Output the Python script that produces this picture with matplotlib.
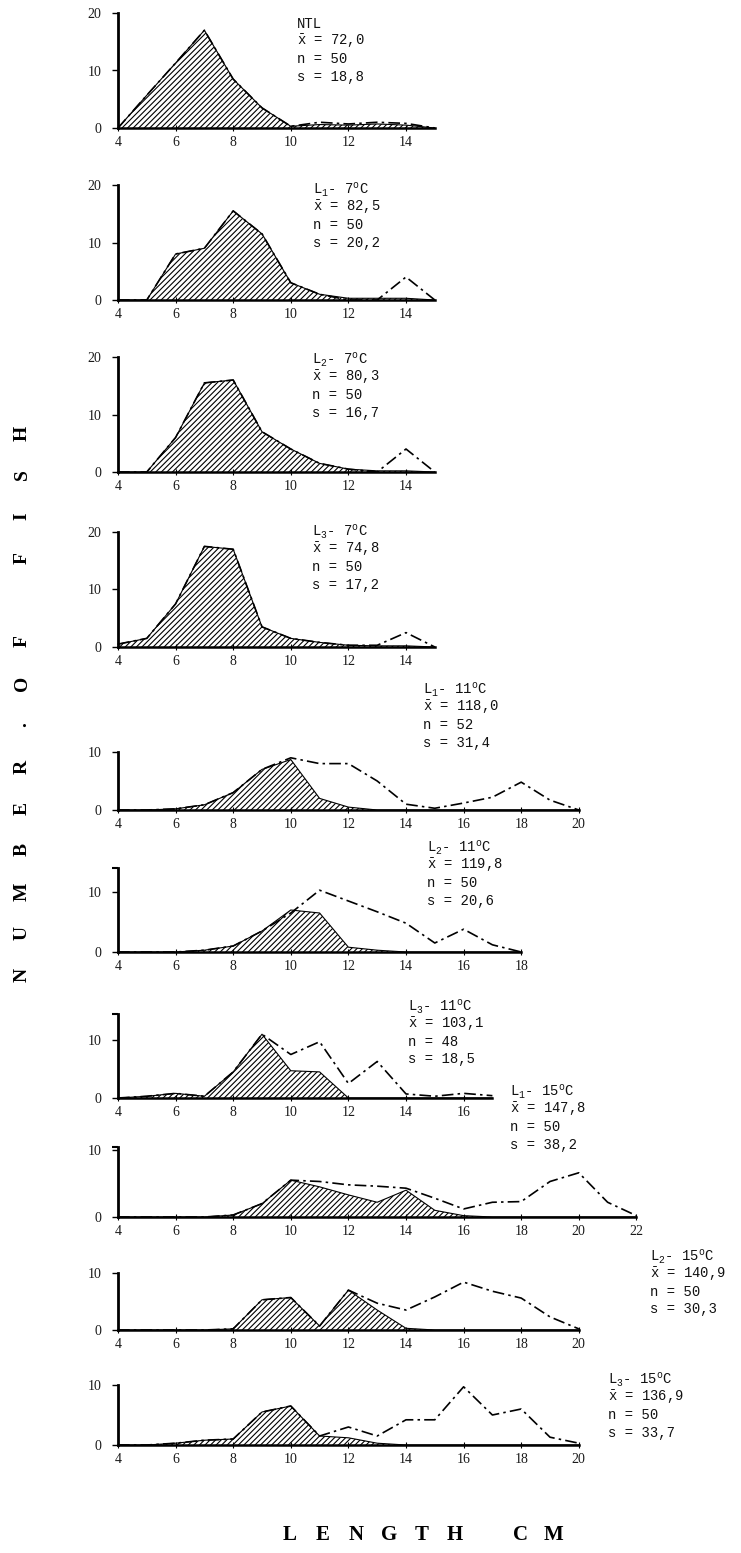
import matplotlib.pyplot as plt

plt.rcParams["mathtext.fontset"] = "custom"
plt.rcParams["mathtext.rm"] = "Liberation Mono"
plt.rcParams["mathtext.it"] = "Liberation Mono:italic"
plt.rcParams["hatch.linewidth"] = 0.8

# =======================
# Data: length class (cm) vs number of fish
# all_* = whole sample (dash-dot outline), sub_* = hatched part
# =======================
x_ntl = [4, 5, 6, 7, 8, 9, 10, 11, 12, 13, 14, 15]
all_ntl = [0, 5.7, 11.3, 17, 8.5, 3.5, 0.3, 1, 0.7, 1, 0.8, 0]
sub_ntl = [0, 5.7, 11.3, 17, 8.5, 3.5, 0.3, 0.6, 0.5, 0.7, 0.5, 0]

x_l1_7 = [4, 5, 6, 7, 8, 9, 10, 11, 12, 13, 14, 15]
all_l1_7 = [0, 0, 8, 9, 15.5, 11.5, 3, 1, 0, 0, 4, 0]
sub_l1_7 = [0, 0, 8, 9, 15.5, 11.5, 3, 1, 0.3, 0.3, 0.3, 0]

x_l2_7 = [4, 5, 6, 7, 8, 9, 10, 11, 12, 13, 14, 15]
all_l2_7 = [0, 0, 6, 15.5, 16, 7, 4, 1.5, 0.5, 0, 4, 0]
sub_l2_7 = [0, 0, 6, 15.5, 16, 7, 4, 1.5, 0.5, 0.2, 0.2, 0]

x_l3_7 = [4, 5, 6, 7, 8, 9, 10, 11, 12, 13, 14, 15]
all_l3_7 = [0.5, 1.5, 7.5, 17.5, 17, 3.5, 1.5, 0.8, 0.3, 0.3, 2.5, 0]
sub_l3_7 = [0.5, 1.5, 7.5, 17.5, 17, 3.5, 1.5, 0.8, 0.3, 0.2, 0.2, 0]

x_l1_11 = [4, 5, 6, 7, 8, 9, 10, 11, 12, 13, 14, 15, 16, 17, 18, 19, 20]
all_l1_11 = [0, 0, 0.2, 0.9, 3, 7, 9, 8, 8, 5, 1, 0.3, 1.2, 2.2, 4.8, 1.7, 0]
sub_l1_11 = [0, 0, 0.2, 0.9, 3, 7, 8.7, 2, 0.5, 0, 0, 0, 0, 0, 0, 0, 0]

x_l2_11 = [4, 5, 6, 7, 8, 9, 10, 11, 12, 13, 14, 15, 16, 17, 18]
all_l2_11 = [0, 0, 0, 0.3, 1, 3.5, 6.5, 10.3, 8.5, 6.7, 4.8, 1.5, 3.8, 1.2, 0]
sub_l2_11 = [0, 0, 0, 0.3, 1, 3.5, 7, 6.5, 0.8, 0.3, 0, 0, 0, 0, 0]

x_l3_11 = [4, 5, 6, 7, 8, 9, 10, 11, 12, 13, 14, 15, 16, 17]
all_l3_11 = [0, 0.3, 0.8, 0.3, 4.5, 11, 7.5, 9.7, 2.5, 6.3, 0.7, 0.3, 0.8, 0.4]
sub_l3_11 = [0, 0.3, 0.8, 0.3, 4.5, 11, 4.7, 4.5, 0, 0, 0, 0, 0, 0]

x_l1_15 = [4, 5, 6, 7, 8, 9, 10, 11, 12, 13, 14, 15, 16, 17, 18, 19, 20, 21, 22]
all_l1_15 = [0, 0, 0, 0, 0.3, 2, 5.5, 5.3, 4.8, 4.6, 4.3, 2.8, 1.2, 2.2, 2.3, 5.3, 6.6, 2.2, 0.2]
sub_l1_15 = [0, 0, 0, 0, 0.3, 2, 5.5, 4.5, 3.3, 2.2, 4, 1, 0.2, 0, 0, 0, 0, 0, 0]

x_l2_15 = [4, 5, 6, 7, 8, 9, 10, 11, 12, 13, 14, 15, 16, 17, 18, 19, 20]
all_l2_15 = [0, 0, 0, 0, 0.2, 5.3, 5.7, 0.7, 7, 4.7, 3.5, 5.8, 8.4, 6.8, 5.6, 2.3, 0.2]
sub_l2_15 = [0, 0, 0, 0, 0.2, 5.3, 5.7, 0.7, 7, 3.5, 0.3, 0, 0, 0, 0, 0, 0]

x_l3_15 = [4, 5, 6, 7, 8, 9, 10, 11, 12, 13, 14, 15, 16, 17, 18, 19, 20]
all_l3_15 = [0, 0, 0.3, 0.8, 1, 5.5, 6.5, 1.5, 3, 1.5, 4.2, 4.2, 9.7, 5, 6, 1.3, 0.3]
sub_l3_15 = [0, 0, 0.3, 0.8, 1, 5.5, 6.5, 1.5, 1.2, 0.3, 0, 0, 0, 0, 0, 0, 0]

groups = ["NTL", "L$_1$- 7$^{\\rm o}$C", "L$_2$- 7$^{\\rm o}$C", "L$_3$- 7$^{\\rm o}$C",
          "L$_1$- 11$^{\\rm o}$C", "L$_2$- 11$^{\\rm o}$C", "L$_3$- 11$^{\\rm o}$C",
          "L$_1$- 15$^{\\rm o}$C", "L$_2$- 15$^{\\rm o}$C", "L$_3$- 15$^{\\rm o}$C"]
means = ["72,0", "82,5", "80,3", "74,8", "118,0", "119,8", "103,1", "147,8", "140,9", "136,9"]
counts = ["50", "50", "50", "50", "52", "50", "48", "50", "50", "50"]
sds = ["18,8", "20,2", "16,7", "17,2", "31,4", "20,6", "18,5", "38,2", "30,3", "33,7"]

xs = [x_ntl, x_l1_7, x_l2_7, x_l3_7, x_l1_11, x_l2_11, x_l3_11, x_l1_15, x_l2_15, x_l3_15]
alls = [all_ntl, all_l1_7, all_l2_7, all_l3_7, all_l1_11, all_l2_11, all_l3_11,
        all_l1_15, all_l2_15, all_l3_15]
subs = [sub_ntl, sub_l1_7, sub_l2_7, sub_l3_7, sub_l1_11, sub_l2_11, sub_l3_11,
        sub_l1_15, sub_l2_15, sub_l3_15]

# =======================
# Layout (pixels)
# =======================
W, H = 741, 1553
X0 = 118          # x = 4 cm
PX_CM = 28.8
px_unit = [5.75, 5.75, 5.75, 5.75, 5.8, 6.0, 5.8, 6.7, 5.7, 6.0]
base_y = [128, 300, 472, 647, 810, 952, 1098, 1217, 1330, 1445]
y_top = [20, 20, 20, 20, 10, 14, 14.5, 10.5, 10, 10]
y_ticks = [[0, 10, 20]] * 4 + [[0, 10]] * 6
text_pos = [(297, 24), (313, 190), (312, 360), (312, 532), (423, 690),
            (427, 848), (408, 1007), (510, 1092), (650, 1257), (608, 1380)]
LINE = 17.5

fig = plt.figure(figsize=(W / 100, H / 100), dpi=100)

for i in range(10):
    x = xs[i]
    xmax = x[-1]
    ax = fig.add_axes([X0 / W, 1 - base_y[i] / H,
                       (xmax - 4) * PX_CM / W, y_top[i] * px_unit[i] / H])
    ax.set_xlim(4, xmax)
    ax.set_ylim(0, y_top[i])
    ax.patch.set_alpha(0)

    ax.fill_between(x, 0, subs[i], facecolor="none", edgecolor="k",
                    hatch="//////", linewidth=0)
    ax.plot(x, subs[i], color="k", lw=0.8, clip_on=False)
    ax.plot(x, alls[i], color="k", lw=1.2, linestyle=(0, (7, 2.5, 1.5, 2.5)),
            clip_on=False)

    for s in ["top", "right"]:
        ax.spines[s].set_visible(False)
    ax.spines["left"].set_linewidth(2)
    ax.spines["bottom"].set_linewidth(1.8)
    ax.spines["left"].set_bounds(0, y_top[i])

    ax.set_xticks(range(4, xmax + 1 if xmax % 2 == 0 else xmax, 2))
    ax.set_yticks(y_ticks[i])
    ax.set_yticks([y_top[i]], minor=True)
    ax.tick_params(axis="x", direction="inout", length=4, width=0.8, pad=4,
                   labelsize=10, labelcolor="#1a1a1a")
    ax.tick_params(axis="y", direction="out", length=4, width=1, pad=8,
                   labelsize=10, labelcolor="#1a1a1a")
    ax.tick_params(axis="y", which="minor", length=4, width=1.5)
    for lab in ax.get_xticklabels() + ax.get_yticklabels():
        lab.set_family("Liberation Serif")

    tx, ty = text_pos[i]
    lines = [groups[i], "$\\bar{\\rm x}$ = " + means[i], "n = " + counts[i],
             "s = " + sds[i]]
    for k, line in enumerate(lines):
        fig.text(tx / W, 1 - (ty + k * LINE) / H, line, fontsize=10,
                 family="Liberation Mono", va="center", ha="left", color="#111111")

# y label, letter spaced like a typewriter
ylabel = "NUMBER.OF FISH"
y_start, step = 975, 41.7
for k, ch in enumerate(ylabel):
    fig.text(22 / W, 1 - (y_start - k * step) / H, ch, rotation=90, fontsize=14,
             fontweight="bold", family="Liberation Serif", ha="center", va="center")

# x label, same spacing style
xlabel = "LENGTH CM"
x_start, xstep = 290, 33
for k, ch in enumerate(xlabel):
    fig.text((x_start + k * xstep) / W, 1 - 1535 / H, ch, fontsize=15,
             fontweight="bold", family="Liberation Serif", ha="center", va="center")

fig.savefig("out.png", dpi=100)
